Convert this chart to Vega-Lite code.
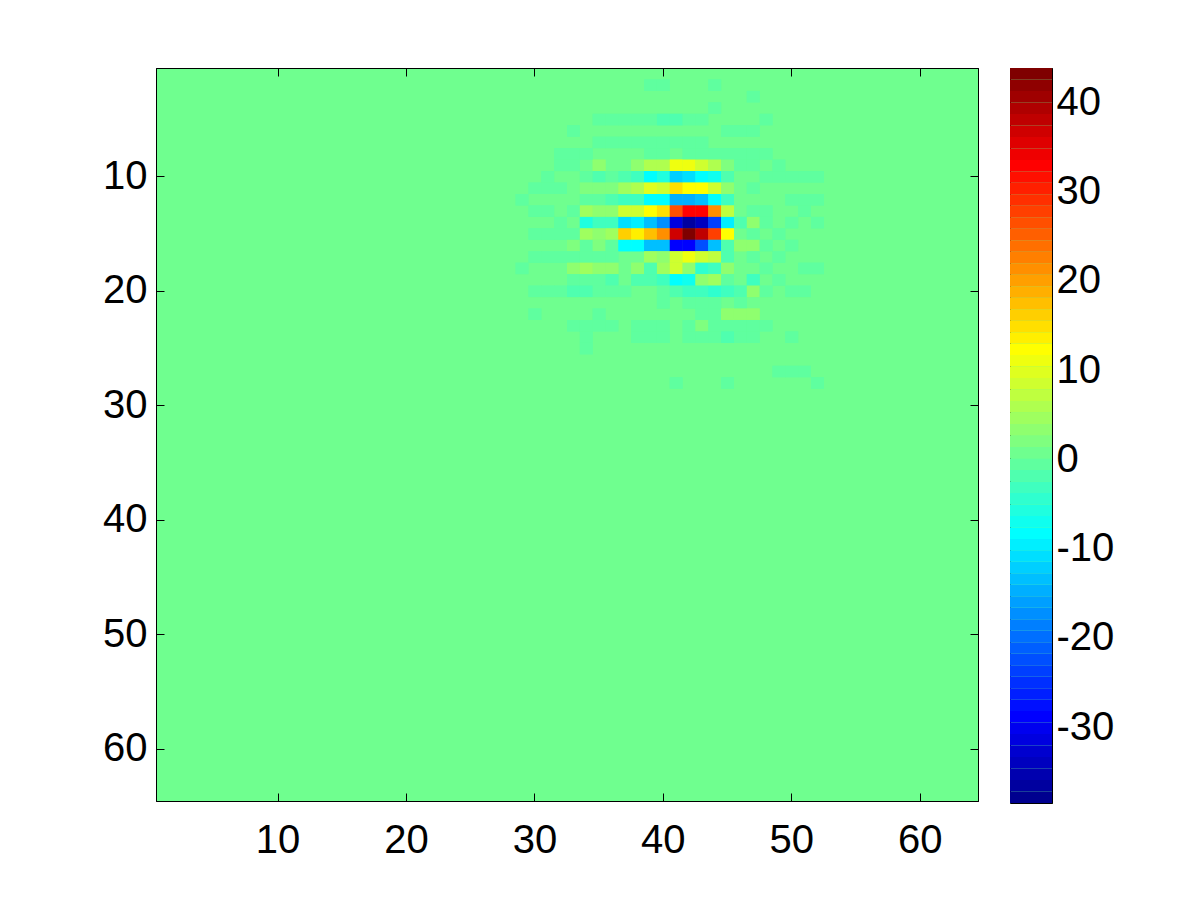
{"$schema":"https://vega.github.io/schema/vega-lite/v6.json","background":"white","padding":{"left":102,"top":67,"right":20,"bottom":20},"config":{"view":{"fill":"#6FFF8F","stroke":"black"},"font":"Liberation Sans","axis":{"title":null,"grid":false,"domainColor":"black","tickColor":"black","labelColor":"black","labelFont":"Liberation Sans","labelFontSize":40,"zindex":1,"domainWidth":1,"tickWidth":1}},"datasets":{"cells":[
{"c":39,"r":2,"v":-1},{"c":40,"r":2,"v":-1},{"c":44,"r":2,"v":-1},{"c":47,"r":3,"v":-1},{"c":44,"r":4,"v":-1},
{"c":35,"r":5,"v":-1},{"c":36,"r":5,"v":-1},{"c":37,"r":5,"v":-1},{"c":38,"r":5,"v":-1},{"c":39,"r":5,"v":-1},{"c":40,"r":5,"v":-2},{"c":41,"r":5,"v":-2},{"c":42,"r":5,"v":-1},{"c":43,"r":5,"v":-1},{"c":48,"r":5,"v":-1},
{"c":33,"r":6,"v":-1},{"c":45,"r":6,"v":-1},{"c":46,"r":6,"v":-1},{"c":47,"r":6,"v":-1},
{"c":35,"r":7,"v":-1},{"c":36,"r":7,"v":-1},{"c":37,"r":7,"v":-1},{"c":38,"r":7,"v":-1},{"c":39,"r":7,"v":-1},{"c":40,"r":7,"v":-1},{"c":41,"r":7,"v":-1},{"c":42,"r":7,"v":-1},{"c":43,"r":7,"v":-1},
{"c":32,"r":8,"v":-1},{"c":33,"r":8,"v":-1},{"c":34,"r":8,"v":-1},{"c":39,"r":8,"v":-1},{"c":40,"r":8,"v":-1},{"c":42,"r":8,"v":-1},{"c":43,"r":8,"v":-1},{"c":44,"r":8,"v":-1},{"c":45,"r":8,"v":-1},{"c":46,"r":8,"v":-1},{"c":47,"r":8,"v":-1},{"c":48,"r":8,"v":-1},
{"c":32,"r":9,"v":-1},{"c":33,"r":9,"v":-1},{"c":35,"r":9,"v":3.1},{"c":38,"r":9,"v":3.1},{"c":39,"r":9,"v":5.7},{"c":40,"r":9,"v":5.7},{"c":41,"r":9,"v":10.8},{"c":42,"r":9,"v":10.8},{"c":43,"r":9,"v":8.2},{"c":44,"r":9,"v":5.7},{"c":45,"r":9,"v":1.8},{"c":46,"r":9,"v":-1},{"c":47,"r":9,"v":-1},{"c":49,"r":9,"v":-1},
{"c":31,"r":10,"v":-1},{"c":34,"r":10,"v":-1},{"c":35,"r":10,"v":-2},{"c":36,"r":10,"v":-1},{"c":37,"r":10,"v":-2},{"c":38,"r":10,"v":-3.6},{"c":39,"r":10,"v":-8.5},{"c":40,"r":10,"v":-6},{"c":41,"r":10,"v":-12.4},{"c":42,"r":10,"v":-11},{"c":43,"r":10,"v":-8.5},{"c":44,"r":10,"v":-7.2},{"c":45,"r":10,"v":-2},{"c":48,"r":10,"v":-1},{"c":49,"r":10,"v":-1},{"c":50,"r":10,"v":-1},{"c":51,"r":10,"v":-1},{"c":52,"r":10,"v":-1},
{"c":30,"r":11,"v":-1},{"c":31,"r":11,"v":-1},{"c":32,"r":11,"v":-1},{"c":34,"r":11,"v":1.8},{"c":35,"r":11,"v":1.8},{"c":36,"r":11,"v":1.8},{"c":37,"r":11,"v":4.4},{"c":38,"r":11,"v":5.7},{"c":39,"r":11,"v":10},{"c":40,"r":11,"v":8.2},{"c":41,"r":11,"v":14.6},{"c":42,"r":11,"v":12},{"c":43,"r":11,"v":12},{"c":44,"r":11,"v":8.2},{"c":45,"r":11,"v":3.1},{"c":47,"r":11,"v":-1},
{"c":29,"r":12,"v":-1},{"c":34,"r":12,"v":-1},{"c":35,"r":12,"v":-1},{"c":36,"r":12,"v":-2},{"c":37,"r":12,"v":-3.6},{"c":38,"r":12,"v":-3.6},{"c":39,"r":12,"v":-8.5},{"c":40,"r":12,"v":-8.5},{"c":41,"r":12,"v":-15},{"c":42,"r":12,"v":-15},{"c":43,"r":12,"v":-13.7},{"c":44,"r":12,"v":-8.5},{"c":45,"r":12,"v":-3.6},{"c":50,"r":12,"v":-1},{"c":51,"r":12,"v":-1},{"c":52,"r":12,"v":-1},
{"c":30,"r":13,"v":-1},{"c":31,"r":13,"v":-1},{"c":33,"r":13,"v":-1},{"c":34,"r":13,"v":4.4},{"c":35,"r":13,"v":3.1},{"c":36,"r":13,"v":3.1},{"c":37,"r":13,"v":8.2},{"c":38,"r":13,"v":8.2},{"c":39,"r":13,"v":12},{"c":40,"r":13,"v":14.6},{"c":41,"r":13,"v":26},{"c":42,"r":13,"v":33},{"c":43,"r":13,"v":33},{"c":44,"r":13,"v":21.5},{"c":45,"r":13,"v":6.9},{"c":47,"r":13,"v":-1},{"c":48,"r":13,"v":-1},{"c":51,"r":13,"v":-1},
{"c":32,"r":14,"v":-1},{"c":34,"r":14,"v":-6},{"c":35,"r":14,"v":-3.6},{"c":36,"r":14,"v":-3.6},{"c":37,"r":14,"v":-11},{"c":38,"r":14,"v":-9.8},{"c":39,"r":14,"v":-13.7},{"c":40,"r":14,"v":-17.5},{"c":41,"r":14,"v":-31.7},{"c":42,"r":14,"v":-37},{"c":43,"r":14,"v":-34.2},{"c":44,"r":14,"v":-24},{"c":45,"r":14,"v":-9.8},{"c":46,"r":14,"v":-2},{"c":47,"r":14,"v":3.1},{"c":48,"r":14,"v":-1},{"c":50,"r":14,"v":-1},{"c":52,"r":14,"v":-1},
{"c":30,"r":15,"v":-1},{"c":31,"r":15,"v":-1},{"c":32,"r":15,"v":-1},{"c":33,"r":15,"v":-1},{"c":34,"r":15,"v":5},{"c":35,"r":15,"v":3.1},{"c":36,"r":15,"v":5},{"c":37,"r":15,"v":15.9},{"c":38,"r":15,"v":14},{"c":39,"r":15,"v":17.2},{"c":40,"r":15,"v":21},{"c":41,"r":15,"v":37},{"c":42,"r":15,"v":43},{"c":43,"r":15,"v":38},{"c":44,"r":15,"v":28},{"c":45,"r":15,"v":11.5},{"c":47,"r":15,"v":-1},{"c":49,"r":15,"v":-1},
{"c":33,"r":16,"v":1.8},{"c":34,"r":16,"v":-1},{"c":35,"r":16,"v":1.8},{"c":36,"r":16,"v":-1},{"c":37,"r":16,"v":-8.5},{"c":38,"r":16,"v":-8.5},{"c":39,"r":16,"v":-13.7},{"c":40,"r":16,"v":-13.7},{"c":41,"r":16,"v":-29},{"c":42,"r":16,"v":-29},{"c":43,"r":16,"v":-22},{"c":44,"r":16,"v":-13.7},{"c":45,"r":16,"v":-2},{"c":46,"r":16,"v":3.1},{"c":47,"r":16,"v":3.1},{"c":48,"r":16,"v":-1},{"c":50,"r":16,"v":-1},
{"c":30,"r":17,"v":-1},{"c":31,"r":17,"v":-1},{"c":32,"r":17,"v":-1},{"c":33,"r":17,"v":-1},{"c":34,"r":17,"v":-1},{"c":35,"r":17,"v":-1},{"c":36,"r":17,"v":-1},{"c":39,"r":17,"v":5},{"c":40,"r":17,"v":3.1},{"c":41,"r":17,"v":8.2},{"c":42,"r":17,"v":10.8},{"c":43,"r":17,"v":8.2},{"c":44,"r":17,"v":6.9},{"c":45,"r":17,"v":-2},{"c":47,"r":17,"v":-1},{"c":49,"r":17,"v":-1},
{"c":29,"r":18,"v":-1},{"c":33,"r":18,"v":3.1},{"c":34,"r":18,"v":4.4},{"c":35,"r":18,"v":3.1},{"c":36,"r":18,"v":3.1},{"c":38,"r":18,"v":3.1},{"c":39,"r":18,"v":-2},{"c":40,"r":18,"v":5},{"c":41,"r":18,"v":8.2},{"c":42,"r":18,"v":3.1},{"c":43,"r":18,"v":-4.9},{"c":44,"r":18,"v":-3.6},{"c":45,"r":18,"v":3.1},{"c":48,"r":18,"v":-1},{"c":51,"r":18,"v":-1},{"c":52,"r":18,"v":-1},
{"c":33,"r":19,"v":-1},{"c":34,"r":19,"v":-1},{"c":35,"r":19,"v":-1},{"c":36,"r":19,"v":-2},{"c":38,"r":19,"v":-2},{"c":39,"r":19,"v":-2},{"c":40,"r":19,"v":-3.6},{"c":41,"r":19,"v":-8.5},{"c":42,"r":19,"v":-7.2},{"c":43,"r":19,"v":3.1},{"c":44,"r":19,"v":4.4},{"c":45,"r":19,"v":-1},{"c":47,"r":19,"v":-3.6},{"c":49,"r":19,"v":-1},
{"c":30,"r":20,"v":-1},{"c":31,"r":20,"v":-1},{"c":32,"r":20,"v":-1},{"c":33,"r":20,"v":-2},{"c":34,"r":20,"v":-2},{"c":35,"r":20,"v":-1},{"c":36,"r":20,"v":-1},{"c":37,"r":20,"v":-1},{"c":40,"r":20,"v":-1},{"c":41,"r":20,"v":-2},{"c":42,"r":20,"v":-3.6},{"c":43,"r":20,"v":-3.6},{"c":44,"r":20,"v":-4.9},{"c":45,"r":20,"v":-3.6},{"c":46,"r":20,"v":-2},{"c":47,"r":20,"v":3.1},{"c":48,"r":20,"v":-1},{"c":50,"r":20,"v":-1},{"c":51,"r":20,"v":-1},
{"c":40,"r":21,"v":-1},{"c":42,"r":21,"v":-1},{"c":43,"r":21,"v":-1},{"c":44,"r":21,"v":-1},{"c":46,"r":21,"v":-1},
{"c":30,"r":22,"v":-1},{"c":35,"r":22,"v":-1},{"c":43,"r":22,"v":-1},{"c":44,"r":22,"v":-1},{"c":45,"r":22,"v":3.1},{"c":46,"r":22,"v":3.1},{"c":47,"r":22,"v":3.1},
{"c":33,"r":23,"v":-1},{"c":34,"r":23,"v":-1},{"c":35,"r":23,"v":-1},{"c":36,"r":23,"v":-1},{"c":38,"r":23,"v":-1},{"c":39,"r":23,"v":-1},{"c":40,"r":23,"v":-1},{"c":42,"r":23,"v":-1},{"c":43,"r":23,"v":1.8},{"c":44,"r":23,"v":-1},{"c":45,"r":23,"v":-1},{"c":46,"r":23,"v":-1},{"c":47,"r":23,"v":-1},{"c":48,"r":23,"v":-1},
{"c":34,"r":24,"v":-1},{"c":38,"r":24,"v":-1},{"c":39,"r":24,"v":-1},{"c":40,"r":24,"v":-1},{"c":42,"r":24,"v":-1},{"c":43,"r":24,"v":-1},{"c":44,"r":24,"v":-1},{"c":45,"r":24,"v":-2},{"c":46,"r":24,"v":-1},{"c":47,"r":24,"v":-1},{"c":50,"r":24,"v":-1},
{"c":34,"r":25,"v":-1},
{"c":49,"r":27,"v":-1},{"c":50,"r":27,"v":-1},{"c":51,"r":27,"v":-1},
{"c":41,"r":28,"v":-1},{"c":45,"r":28,"v":-1},{"c":52,"r":28,"v":-1}
],"bar":[
{"lo":-38.7,"hi":-37.41,"mid":-38.06},{"lo":-37.41,"hi":-36.13,"mid":-36.77},{"lo":-36.13,"hi":-34.84,"mid":-35.48},{"lo":-34.84,"hi":-33.56,"mid":-34.2},{"lo":-33.56,"hi":-32.27,"mid":-32.91},{"lo":-32.27,"hi":-30.98,"mid":-31.63},{"lo":-30.98,"hi":-29.7,"mid":-30.34},{"lo":-29.7,"hi":-28.41,"mid":-29.05},{"lo":-28.41,"hi":-27.13,"mid":-27.77},{"lo":-27.13,"hi":-25.84,"mid":-26.48},{"lo":-25.84,"hi":-24.55,"mid":-25.2},{"lo":-24.55,"hi":-23.27,"mid":-23.91},{"lo":-23.27,"hi":-21.98,"mid":-22.63},{"lo":-21.98,"hi":-20.7,"mid":-21.34},{"lo":-20.7,"hi":-19.41,"mid":-20.05},{"lo":-19.41,"hi":-18.13,"mid":-18.77},{"lo":-18.13,"hi":-16.84,"mid":-17.48},{"lo":-16.84,"hi":-15.55,"mid":-16.2},{"lo":-15.55,"hi":-14.27,"mid":-14.91},{"lo":-14.27,"hi":-12.98,"mid":-13.63},{"lo":-12.98,"hi":-11.7,"mid":-12.34},{"lo":-11.7,"hi":-10.41,"mid":-11.05},{"lo":-10.41,"hi":-9.13,"mid":-9.77},{"lo":-9.13,"hi":-7.84,"mid":-8.48},{"lo":-7.84,"hi":-6.55,"mid":-7.2},{"lo":-6.55,"hi":-5.27,"mid":-5.91},{"lo":-5.27,"hi":-3.98,"mid":-4.63},{"lo":-3.98,"hi":-2.7,"mid":-3.34},{"lo":-2.7,"hi":-1.41,"mid":-2.05},{"lo":-1.41,"hi":-0.12,"mid":-0.77},{"lo":-0.12,"hi":1.16,"mid":0.52},{"lo":1.16,"hi":2.45,"mid":1.8},{"lo":2.45,"hi":3.74,"mid":3.09},{"lo":3.74,"hi":5.02,"mid":4.38},{"lo":5.02,"hi":6.31,"mid":5.66},{"lo":6.31,"hi":7.59,"mid":6.95},{"lo":7.59,"hi":8.88,"mid":8.23},{"lo":8.88,"hi":10.17,"mid":9.52},{"lo":10.17,"hi":11.45,"mid":10.81},{"lo":11.45,"hi":12.74,"mid":12.09},{"lo":12.74,"hi":14.02,"mid":13.38},{"lo":14.02,"hi":15.31,"mid":14.66},{"lo":15.31,"hi":16.59,"mid":15.95},{"lo":16.59,"hi":17.88,"mid":17.23},{"lo":17.88,"hi":19.17,"mid":18.52},{"lo":19.17,"hi":20.45,"mid":19.81},{"lo":20.45,"hi":21.74,"mid":21.09},{"lo":21.74,"hi":23.02,"mid":22.38},{"lo":23.02,"hi":24.31,"mid":23.66},{"lo":24.31,"hi":25.59,"mid":24.95},{"lo":25.59,"hi":26.88,"mid":26.23},{"lo":26.88,"hi":28.17,"mid":27.52},{"lo":28.17,"hi":29.45,"mid":28.81},{"lo":29.45,"hi":30.74,"mid":30.09},{"lo":30.74,"hi":32.02,"mid":31.38},{"lo":32.02,"hi":33.31,"mid":32.66},{"lo":33.31,"hi":34.59,"mid":33.95},{"lo":34.59,"hi":35.88,"mid":35.23},{"lo":35.88,"hi":37.17,"mid":36.52},{"lo":37.17,"hi":38.45,"mid":37.81},{"lo":38.45,"hi":39.74,"mid":39.09},{"lo":39.74,"hi":41.02,"mid":40.38},{"lo":41.02,"hi":42.31,"mid":41.66},{"lo":42.31,"hi":43.6,"mid":42.95}
]},
"resolve":{"scale":{"color":"shared"}},
"hconcat":[
{"width":822,"height":733,"data":{"name":"cells"},
"resolve":{"axis":{"x":"independent","y":"independent"}},
"layer":[
{"mark":{"type":"rect"},"encoding":{
"color":{"field":"v","type":"quantitative","legend":null,"scale":{"type":"quantize","domain":[-38.7,43.6],"range":["#00008F","#00009F","#0000AF","#0000BF","#0000CF","#0000DF","#0000EF","#0000FF","#000FFF","#001FFF","#002FFF","#003FFF","#004FFF","#005FFF","#006FFF","#007FFF","#008FFF","#009FFF","#00AFFF","#00BFFF","#00CFFF","#00DFFF","#00EFFF","#00FFFF","#0FFFEF","#1FFFDF","#2FFFCF","#3FFFBF","#4FFFAF","#5FFF9F","#6FFF8F","#7FFF7F","#8FFF6F","#9FFF5F","#AFFF4F","#BFFF3F","#CFFF2F","#DFFF1F","#EFFF0F","#FFFF00","#FFEF00","#FFDF00","#FFCF00","#FFBF00","#FFAF00","#FF9F00","#FF8F00","#FF7F00","#FF6F00","#FF5F00","#FF4F00","#FF3F00","#FF2F00","#FF1F00","#FF0F00","#FF0000","#EF0000","#DF0000","#CF0000","#BF0000","#AF0000","#9F0000","#8F0000","#7F0000"]}},
"x":{"field":"c","type":"ordinal","scale":{"domain":[1,2,3,4,5,6,7,8,9,10,11,12,13,14,15,16,17,18,19,20,21,22,23,24,25,26,27,28,29,30,31,32,33,34,35,36,37,38,39,40,41,42,43,44,45,46,47,48,49,50,51,52,53,54,55,56,57,58,59,60,61,62,63,64],"paddingInner":0,"paddingOuter":0,"round":false},"axis":{"orient":"bottom","values":[10,20,30,40,50,60],"tickSize":-8,"labelPadding":27,"labelAngle":0}},
"y":{"field":"r","type":"ordinal","scale":{"domain":[1,2,3,4,5,6,7,8,9,10,11,12,13,14,15,16,17,18,19,20,21,22,23,24,25,26,27,28,29,30,31,32,33,34,35,36,37,38,39,40,41,42,43,44,45,46,47,48,49,50,51,52,53,54,55,56,57,58,59,60,61,62,63,64],"paddingInner":0,"paddingOuter":0,"round":false},"axis":{"orient":"left","values":[10,20,30,40,50,60],"tickSize":-8,"labelPadding":17}}}},
{"mark":{"type":"rect"},"encoding":{
"color":{"field":"v","type":"quantitative","legend":null,"scale":{"type":"quantize","domain":[-38.7,43.6],"range":["#00008F","#00009F","#0000AF","#0000BF","#0000CF","#0000DF","#0000EF","#0000FF","#000FFF","#001FFF","#002FFF","#003FFF","#004FFF","#005FFF","#006FFF","#007FFF","#008FFF","#009FFF","#00AFFF","#00BFFF","#00CFFF","#00DFFF","#00EFFF","#00FFFF","#0FFFEF","#1FFFDF","#2FFFCF","#3FFFBF","#4FFFAF","#5FFF9F","#6FFF8F","#7FFF7F","#8FFF6F","#9FFF5F","#AFFF4F","#BFFF3F","#CFFF2F","#DFFF1F","#EFFF0F","#FFFF00","#FFEF00","#FFDF00","#FFCF00","#FFBF00","#FFAF00","#FF9F00","#FF8F00","#FF7F00","#FF6F00","#FF5F00","#FF4F00","#FF3F00","#FF2F00","#FF1F00","#FF0F00","#FF0000","#EF0000","#DF0000","#CF0000","#BF0000","#AF0000","#9F0000","#8F0000","#7F0000"]}},
"x":{"field":"c","type":"ordinal","axis":{"orient":"top","values":[10,20,30,40,50,60],"tickSize":-8,"labels":false}},
"y":{"field":"r","type":"ordinal","axis":{"orient":"right","values":[10,20,30,40,50,60],"tickSize":-8,"labels":false}}}}
]},
{"width":42,"height":735,"data":{"name":"bar"},
"layer":[
{"mark":{"type":"rect"},"encoding":{"color":{"field":"mid","type":"quantitative","legend":null,"scale":{"type":"quantize","domain":[-38.7,43.6],"range":["#00008F","#00009F","#0000AF","#0000BF","#0000CF","#0000DF","#0000EF","#0000FF","#000FFF","#001FFF","#002FFF","#003FFF","#004FFF","#005FFF","#006FFF","#007FFF","#008FFF","#009FFF","#00AFFF","#00BFFF","#00CFFF","#00DFFF","#00EFFF","#00FFFF","#0FFFEF","#1FFFDF","#2FFFCF","#3FFFBF","#4FFFAF","#5FFF9F","#6FFF8F","#7FFF7F","#8FFF6F","#9FFF5F","#AFFF4F","#BFFF3F","#CFFF2F","#DFFF1F","#EFFF0F","#FFFF00","#FFEF00","#FFDF00","#FFCF00","#FFBF00","#FFAF00","#FF9F00","#FF8F00","#FF7F00","#FF6F00","#FF5F00","#FF4F00","#FF3F00","#FF2F00","#FF1F00","#FF0F00","#FF0000","#EF0000","#DF0000","#CF0000","#BF0000","#AF0000","#9F0000","#8F0000","#7F0000"]}},"y":{"field":"lo","type":"quantitative","scale":{"domain":[-38.7,43.6],"nice":false,"zero":false},"axis":{"orient":"right","values":[-30,-20,-10,0,10,20,30,40],"tickSize":-7,"labelPadding":11,"labelOffset":2,"labelExpr":"'' + datum.value"}},"y2":{"field":"hi"}}}
]}
],
"spacing":30}
